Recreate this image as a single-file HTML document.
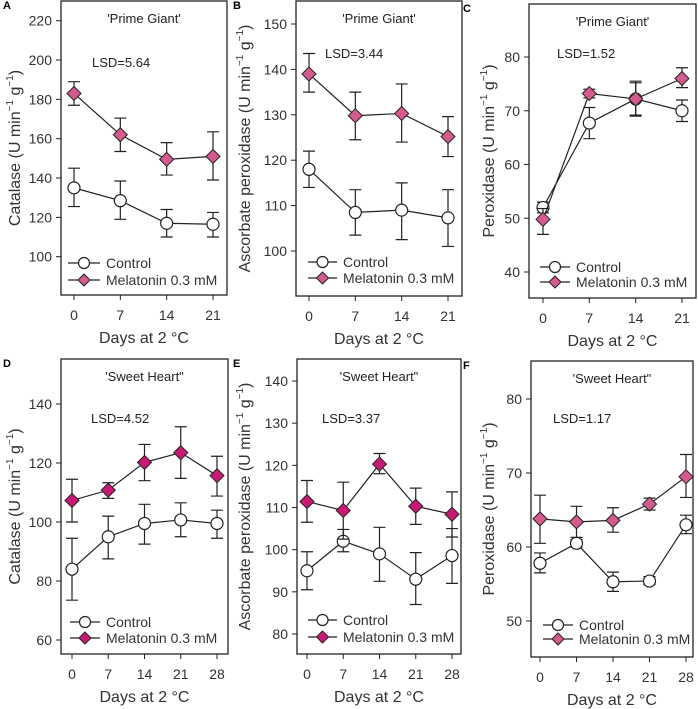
<!DOCTYPE html>
<html><head><meta charset="utf-8">
<style>
html,body{margin:0;padding:0;background:#fff;}
svg{display:block;font-family:"Liberation Sans",Arial,sans-serif;}
</style></head>
<body>
<svg id="fig" width="698" height="709" viewBox="0 0 698 709"></svg>
<script>
const daysA=[0,7,14,21];
const daysD=[0,7,14,21,28];
const ticksA=[100,120,140,160,180,200,220];
const ticksB=[100,110,120,130,140,150];
const ticksC=[40,50,60,70,80];
const ticksD=[60,80,100,120,140];
const ticksE=[80,90,100,110,120,130,140];
const ticksF=[50,60,70,80];
const ctrlA=[135,128.5,117,116.5], ctrlALo=[125.5,119,110,110], ctrlAHi=[145,138.5,124,122.5];
const melA=[183,162,149.5,151], melALo=[177,153.5,141.5,139], melAHi=[189,170.5,158,163.5];
const ctrlB=[118,108.5,109,107.3], ctrlBLo=[114,103.5,102.5,101], ctrlBHi=[122,113.5,115,113.5];
const melB=[139,129.8,130.3,125.2], melBLo=[135,124.5,124,120.8], melBHi=[143.5,135,136.8,129.6];
const ctrlC=[52,67.7,72.2,70], ctrlCLo=[51,64.8,69.2,68], ctrlCHi=[53,70.6,75.2,72];
const melC=[49.8,73.2,72.2,76], melCLo=[47,72.4,69,74.3], melCHi=[51.8,74,75.5,78];
const ctrlD=[84,95,99.5,100.7,99.5], ctrlDLo=[73.5,87.5,92.5,95,94.5], ctrlDHi=[94.5,102,106,106.5,104];
const melD=[107.3,110.8,120.2,123.5,115.7], melDLo=[100,108,114,114.8,108.8], melDHi=[114.5,113.3,126.3,132.3,122.3];
const ctrlE=[95,102,99,93,98.6], ctrlELo=[90.5,99.5,92.5,87,92], ctrlEHi=[99.5,104.8,105.3,99.3,105];
const melE=[111.4,109.3,120.3,110.3,108.4], melELo=[106.5,102.5,118,106,103], melEHi=[116.4,116,122.8,114.6,113.7];
const ctrlF=[57.8,60.5,55.3,55.4,63], ctrlFLo=[56.5,60,54,54.9,61.8], ctrlFHi=[59.2,61,56.6,56,64.3];
const melF=[63.8,63.4,63.6,65.8,69.5], melFLo=[60.5,61.3,62,65,66.7], melFHi=[67,65.5,65.3,66.6,72.5];

const NS="http://www.w3.org/2000/svg";
const svg=document.getElementById('fig');
function mk(tag,attrs,parent){const e=document.createElementNS(NS,tag);for(const k in attrs)e.setAttribute(k,attrs[k]);(parent||svg).appendChild(e);return e;}

function panel(p){
  const g=mk('g',{});
  
  
  const ys=v=>p.y0px+(v-p.y0)*(p.y1px-p.y0px)/(p.y1-p.y0);
  const xs=d=>p.x0px+(d-p.days[0])*(p.x1px-p.x0px)/(p.days[p.days.length-1]-p.days[0]);
  const box=mk('rect',{x:p.L,y:p.T,width:p.R-p.L,height:p.B-p.T,fill:'none',stroke:'#222','stroke-width':1.3},g);
  
  
  const lt=mk('text',{x:p.lx,y:p.T+8,'font-size':11,'font-weight':'bold',fill:'#000'},g);
  lt.textContent=p.letter;
  
  
  p.ticks.forEach(t=>{
    const y=ys(t);
    mk('line',{x1:p.L-5,x2:p.L,y1:y,y2:y,stroke:'#222','stroke-width':1},g);
    const tx=mk('text',{x:p.L-9,y:y+5,'font-size':14,'text-anchor':'end',fill:'#333'},g);
    tx.textContent=t;
    
    
  });
  p.days.forEach(d=>{
    const x=xs(d);
    mk('line',{x1:x,x2:x,y1:p.B,y2:p.B+5,stroke:'#222','stroke-width':1},g);
    const tx=mk('text',{x:x,y:p.B+25,'font-size':14,'text-anchor':'middle',fill:'#333'},g);
    tx.textContent=d;
    
    
  });
  const xt=mk('text',{x:(p.L+p.R)/2,y:p.B+48,'font-size':16,'text-anchor':'middle',fill:'#333'},g);
  xt.textContent='Days at 2 °C';
  
  
  const yc=(p.T+p.B)/2;
  const yt=mk('text',{x:0,y:0,'font-size':16,'text-anchor':'middle',fill:'#333',transform:`translate(${p.ytx},${yc}) rotate(-90)`},g);
  yt.innerHTML=p.ytitle+' (U min<tspan dy="-7" font-size="10">−1</tspan><tspan dy="7"> g</tspan><tspan dy="-7" font-size="10">−1</tspan><tspan dy="7">)</tspan>';
  
  
  const cul=mk('text',{x:(p.L+p.R)/2,y:p.T+22,'font-size':13,'text-anchor':'middle',fill:'#222'},g);
  cul.textContent=p.cultivar;
  
  
  const lsd=mk('text',{x:p.lsdx,y:p.lsdy,'font-size':13,fill:'#222'},g);
  lsd.textContent=p.lsd;
  
  
  const series=[{v:p.c,lo:p.cl,hi:p.ch,mel:false},{v:p.m,lo:p.ml,hi:p.mh,mel:true}];
  series.forEach(s=>{
    const sg=mk('g',{},g);
    
    
    s.v.forEach((v,i)=>{
      const x=xs(p.days[i]);
      const e=mk('path',{d:`M${x-6},${ys(s.hi[i])}H${x+6}M${x-6},${ys(s.lo[i])}H${x+6}M${x},${ys(s.hi[i])}V${ys(s.lo[i])}`,stroke:'#222','stroke-width':1.2,fill:'none'},sg);
      
      
    });
    const ln=mk('polyline',{points:s.v.map((v,i)=>xs(p.days[i])+','+ys(v)).join(' '),fill:'none',stroke:'#222','stroke-width':1.2},sg);
    
    
    s.v.forEach((v,i)=>{
      const x=xs(p.days[i]),y=ys(v);
      let m;
      if(s.mel){m=mk('path',{d:`M${x},${y-7}L${x+7},${y}L${x},${y+7}L${x-7},${y}Z`,fill:p.pink,stroke:'#222','stroke-width':1},sg);}
      else{m=mk('circle',{cx:x,cy:y,r:6,fill:'#fff',stroke:'#222','stroke-width':1.2},sg);}
      
      
    });
  });
  const lg=mk('g',{},g);
  
  
  [['Control',p.leg1,false],['Melatonin 0.3 mM',p.leg2,true]].forEach(([lab,y,mel])=>{
    const cx=(p.lgx1+p.lgx2)/2;
    mk('line',{x1:p.lgx1,x2:p.lgx2,y1:y,y2:y,stroke:'#222','stroke-width':1.2},lg);
    if(mel)mk('path',{d:`M${cx},${y-6}L${cx+6},${y}L${cx},${y+6}L${cx-6},${y}Z`,fill:p.pink,stroke:'#222','stroke-width':1},lg);
    else mk('circle',{cx:cx,cy:y,r:5.5,fill:'#fff',stroke:'#222','stroke-width':1.2},lg);
    const t=mk('text',{x:p.lgx2+6,y:y+5,'font-size':14,fill:'#333'},lg);
    t.textContent=lab;
    
    
  });
}
const pinkTop='#d35b8e', pinkBot='#c81a75';
panel({letter:'A',lx:3,L:61,R:227,T:1,B:295,y0:100,y0px:256.7,y1:220,y1px:20.7,x0px:74,x1px:213,days:daysA,ticks:ticksA,ytitle:'Catalase',ytx:20,cultivar:"'Prime Giant'",lsd:'LSD=5.64',lsdx:92,lsdy:67,c:ctrlA,cl:ctrlALo,ch:ctrlAHi,m:melA,ml:melALo,mh:melAHi,leg1:263,leg2:280,lgx1:68,lgx2:100,pink:pinkTop});
panel({letter:'B',lx:233,L:296,R:462,T:1,B:296,y0:100,y0px:251,y1:150,y1px:24,x0px:309,x1px:448,days:daysA,ticks:ticksB,ytitle:'Ascorbate peroxidase',ytx:250,cultivar:"'Prime Giant'",lsd:'LSD=3.44',lsdx:325,lsdy:58,c:ctrlB,cl:ctrlBLo,ch:ctrlBHi,m:melB,ml:melBLo,mh:melBHi,leg1:262,leg2:278,lgx1:308,lgx2:337,pink:pinkTop});
panel({letter:'C',lx:463,L:529,R:696,T:4,B:298,y0:40,y0px:272,y1:80,y1px:57,x0px:543,x1px:682,days:daysA,ticks:ticksC,ytitle:'Peroxidase',ytx:494,cultivar:"'Prime Giant'",lsd:'LSD=1.52',lsdx:557,lsdy:58,c:ctrlC,cl:ctrlCLo,ch:ctrlCHi,m:melC,ml:melCLo,mh:melCHi,leg1:267,leg2:282,lgx1:540,lgx2:570,pink:pinkTop});
panel({letter:'D',lx:3,L:61,R:228,T:359,B:654,y0:60,y0px:640,y1:140,y1px:404,x0px:72,x1px:217,days:daysD,ticks:ticksD,ytitle:'Catalase',ytx:20,cultivar:"'Sweet Heart\"",lsd:'LSD=4.52',lsdx:91,lsdy:423,c:ctrlD,cl:ctrlDLo,ch:ctrlDHi,m:melD,ml:melDLo,mh:melDHi,leg1:622,leg2:638,lgx1:70,lgx2:100,pink:pinkBot});
panel({letter:'E',lx:233,L:297,R:461,T:359,B:654,y0:80,y0px:634,y1:140,y1px:381,x0px:307,x1px:452,days:daysD,ticks:ticksE,ytitle:'Ascorbate peroxidase',ytx:250,cultivar:"'Sweet Heart\"",lsd:'LSD=3.37',lsdx:322,lsdy:423,c:ctrlE,cl:ctrlELo,ch:ctrlEHi,m:melE,ml:melELo,mh:melEHi,leg1:620,leg2:637,lgx1:308,lgx2:337,pink:pinkBot});
panel({letter:'F',lx:463,L:531,R:693,T:361,B:657,y0:50,y0px:621,y1:80,y1px:399,x0px:540,x1px:686,days:daysD,ticks:ticksF,ytitle:'Peroxidase',ytx:494,cultivar:"'Sweet Heart\"",lsd:'LSD=1.17',lsdx:553,lsdy:423,c:ctrlF,cl:ctrlFLo,ch:ctrlFHi,m:melF,ml:melFLo,mh:melFHi,leg1:625,leg2:639,lgx1:543,lgx2:573,pink:pinkTop});
</script>
</body></html>
